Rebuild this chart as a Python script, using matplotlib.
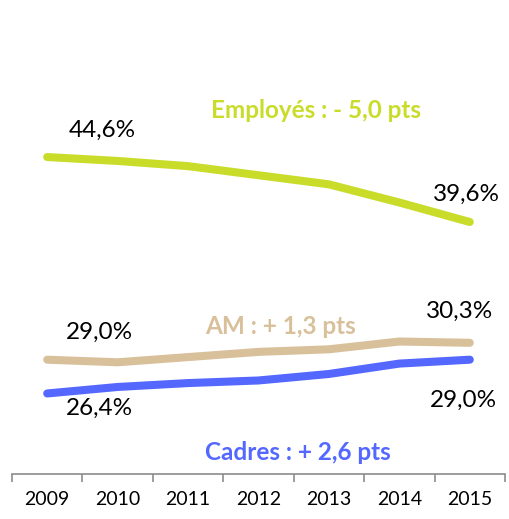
import matplotlib.pyplot as plt

years = ["2009", "2010", "2011", "2012", "2013", "2014", "2015"]
employes = [44.6, 44.3, 43.9, 43.2, 42.5, 41.1, 39.6]
am = [29.0, 28.8, 29.2, 29.6, 29.8, 30.4, 30.3]
cadres = [26.4, 26.9, 27.2, 27.4, 27.9, 28.7, 29.0]

c_emp = "#c9dc2a"
c_am = "#d8c09b"
c_cad = "#5467ff"

plt.rcParams["font.family"] = ["Lato", "DejaVu Sans"]

fig = plt.figure(figsize=(5.10, 5.19), dpi=100)
ax = fig.add_axes([0.0235, 0.0867, 0.9667, 0.871])

x = list(range(len(years)))
lw = 5.8
ax.plot(x, employes, color=c_emp, lw=lw, solid_capstyle="round", solid_joinstyle="round")
ax.plot(x, am, color=c_am, lw=lw, solid_capstyle="round", solid_joinstyle="round")
ax.plot(x, cadres, color=c_cad, lw=lw, solid_capstyle="round", solid_joinstyle="round")

ax.set_xlim(-0.5, 6.5)
ax.set_ylim(20.2, 55)

# value labels at first and last points (offsets in pixels -> points)
def lab(xi, yi, dx, dy):
    ax.annotate(f"{yi:.1f}%".replace(".", ","), (xi, yi), xytext=(dx * 0.72, dy * 0.72),
                textcoords="offset points", ha="center", va="center",
                fontsize=17.5, color="black")

lab(0, employes[0], 55, 27)
lab(6, employes[-1], -3, 28)
lab(0, am[0], 52, 27)
lab(6, am[-1], -10, 31)
lab(0, cadres[0], 52, -15)
lab(6, cadres[-1], -6, -41)

ax.text(316, 519 - 110, "Employés : - 5,0 pts", transform=None, color=c_emp,
        fontsize=17.5, fontweight="bold", ha="center", va="center")
ax.text(281, 519 - 327, "AM : + 1,3 pts", transform=None, color=c_am,
        fontsize=17.5, fontweight="bold", ha="center", va="center")
ax.text(298, 519 - 452, "Cadres : + 2,6 pts", transform=None, color=c_cad,
        fontsize=17.5, fontweight="bold", ha="center", va="center")

for s in ["top", "right", "left"]:
    ax.spines[s].set_visible(False)
ax.spines["bottom"].set_color("#8c8c8c")
ax.spines["bottom"].set_linewidth(1.2)
ax.set_yticks([])
ax.set_xticks(x)
ax.set_xticklabels(years, fontsize=14)
ax.tick_params(axis="x", which="major", length=0, pad=12)
ax.set_xticks([i - 0.5 for i in range(len(years) + 1)], minor=True)
ax.tick_params(axis="x", which="minor", length=6, width=1.2, color="#8c8c8c")

fig.savefig("out.png", dpi=100)
